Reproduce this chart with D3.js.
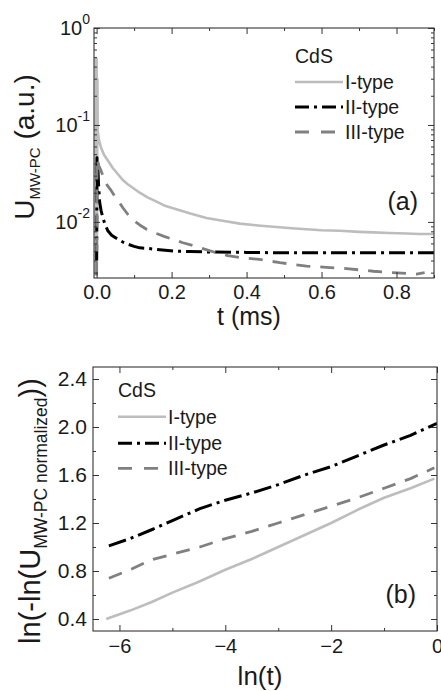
<!DOCTYPE html>
<html><head><meta charset="utf-8">
<script src="https://cdn.jsdelivr.net/npm/d3@7"></script>
<style>
body{margin:0;background:#fff;}
text{font-family:"Liberation Sans",Arial,sans-serif;fill:#1a1a1a;}
</style></head>
<body><svg id="c" width="441" height="691"></svg>
<script>
// ---------- data ----------
const seriesNames = ["I-type","II-type","III-type"];
const legendTitle = "CdS";
// panel (a): t (ms) vs U_MW-PC (a.u.)
const aIType = [[-0.003,0.0028],[-0.002,0.49],[-0.001,0.003],[0.0,0.48],[0.001,0.004],[0.002,0.3],[0.003,0.087],[0.006,0.07],[0.012,0.058],[0.02,0.049],[0.03,0.043],[0.043,0.036],[0.057,0.031],[0.07,0.027],[0.083,0.0245],[0.1,0.022],[0.115,0.02],[0.137,0.0178],[0.16,0.0162],[0.18,0.0148],[0.204,0.0138],[0.25,0.0122],[0.293,0.011],[0.34,0.0102],[0.382,0.0096],[0.43,0.0092],[0.471,0.0089],[0.52,0.0086],[0.56,0.0084],[0.6,0.0082],[0.649,0.0081],[0.7,0.0079],[0.738,0.0078],[0.78,0.0077],[0.827,0.0076],[0.86,0.0075],[0.9,0.0075]];
const aIIType = [[0.0,0.004],[0.001,0.046],[0.002,0.02],[0.003,0.04],[0.005,0.025],[0.008,0.016],[0.012,0.013],[0.017,0.011],[0.022,0.0095],[0.03,0.0081],[0.04,0.0073],[0.057,0.0066],[0.07,0.0062],[0.083,0.0059],[0.1,0.0056],[0.115,0.0054],[0.132,0.00535],[0.16,0.0052],[0.204,0.005],[0.25,0.00495],[0.293,0.0049],[0.4,0.00485],[0.5,0.0048],[0.6,0.0048],[0.7,0.0048],[0.8,0.0048],[0.9,0.0048]];
const aIIIType = [[0.0,0.0028],[0.001,0.045],[0.003,0.042],[0.006,0.038],[0.012,0.0336],[0.02,0.028],[0.028,0.024],[0.039,0.021],[0.05,0.018],[0.06,0.016],[0.07,0.014],[0.083,0.012],[0.101,0.0102],[0.115,0.0093],[0.133,0.0084],[0.16,0.0076],[0.18,0.0071],[0.204,0.0066],[0.23,0.0061],[0.258,0.0057],[0.29,0.0052],[0.32,0.0048],[0.35,0.0045],[0.382,0.0043],[0.435,0.0041],[0.489,0.0038],[0.56,0.0035],[0.613,0.0034],[0.667,0.0033],[0.738,0.0031],[0.79,0.003],[0.853,0.0029],[0.875,0.003]];
// panel (b): ln(t) vs ln(-ln(U normalized))
const bIType = [[-6.25,0.40],[-5.8,0.47],[-5.4,0.54],[-5.0,0.62],[-4.5,0.71],[-4.0,0.81],[-3.5,0.90],[-3.0,1.00],[-2.5,1.10],[-2.0,1.20],[-1.5,1.31],[-1.0,1.41],[-0.5,1.49],[-0.05,1.57]];
const bIIType = [[-6.2,1.01],[-5.8,1.07],[-5.36,1.15],[-5.0,1.22],[-4.48,1.32],[-4.0,1.39],[-3.5,1.45],[-3.0,1.52],[-2.5,1.60],[-2.0,1.67],[-1.5,1.76],[-1.0,1.85],[-0.5,1.93],[0.0,2.03]];
const bIIIType = [[-6.2,0.74],[-5.8,0.81],[-5.42,0.89],[-5.0,0.94],[-4.48,1.0],[-4.0,1.07],[-3.5,1.13],[-3.0,1.20],[-2.5,1.27],[-2.0,1.34],[-1.5,1.41],[-1.0,1.49],[-0.5,1.57],[-0.05,1.66]];
// ticks
const aXTicks = [0,0.2,0.4,0.6,0.8];
const aXMinor = [0.1,0.3,0.5,0.7,0.9];
const aYTicks = [1e-2,1e-1,1e0];
const aYTickExp = ["-2","-1","0"];
const bXTicks = [-6,-4,-2,0];
const bXMinor = [-5,-3,-1];
const bYTicks = [0.4,0.8,1.2,1.6,2.0,2.4];
const bYMinor = [0.6,1.0,1.4,1.8,2.2];

// ---------- styles ----------
const styles = [
  {color:"#bdbdbd", dash:null, w:2.6},
  {color:"#000000", dash:"16,5,3,5", w:3},
  {color:"#808080", dash:"14,10", w:2.8}
];

const svg = d3.select("#c");

function frame(g, x0,x1,y0,y1){
  g.append("rect").attr("x",x0).attr("y",y0).attr("width",x1-x0).attr("height",y1-y0)
   .attr("fill","none").attr("stroke","#333").attr("stroke-width",1.1);
}
function styleAxis(sel){
  sel.select(".domain").remove();
  sel.selectAll("line").attr("stroke","#333").attr("stroke-width",1);
  sel.selectAll("text").attr("fill","#1a1a1a").style("font-family","'Liberation Sans',Arial,sans-serif");
}

// ================= Panel (a) =================
const A = {l:94, r:434, t:28, b:278};
const xA = d3.scaleLinear().domain([-0.007,0.9]).range([A.l,A.r]);
const yA = d3.scaleLog().domain([0.00264,1.0]).range([A.b,A.t]);
const gA = svg.append("g");

svg.append("clipPath").attr("id","clipA").append("rect").attr("x",A.l).attr("y",A.t).attr("width",A.r-A.l).attr("height",A.b-A.t);
svg.append("clipPath").attr("id","clipB").append("rect").attr("x",93).attr("y",367).attr("width",344).attr("height",264);

const lineA = d3.line().x(d=>xA(d[0])).y(d=>yA(d[1]));
const aData = [aIType,aIIType,aIIIType];
const gLinesA = gA.append("g").attr("clip-path","url(#clipA)");
aData.forEach((d,i)=>{
  gLinesA.append("path").datum(d).attr("d",lineA).attr("fill","none")
    .attr("stroke",styles[i].color).attr("stroke-width",styles[i].w)
    .attr("stroke-dasharray",styles[i].dash).attr("stroke-linejoin","round");
});

// axes a
const axAB = gA.append("g").attr("transform",`translate(0,${A.b})`)
  .call(d3.axisBottom(xA).tickValues(aXTicks).tickSize(-6).tickPadding(7).tickFormat(d3.format(".1f")));
styleAxis(axAB); axAB.selectAll("text").attr("font-size",20);
const axABm = gA.append("g").attr("transform",`translate(0,${A.b})`)
  .call(d3.axisBottom(xA).tickValues(aXMinor).tickSize(-3).tickFormat(""));
styleAxis(axABm);
const axAT = gA.append("g").attr("transform",`translate(0,${A.t})`)
  .call(d3.axisTop(xA).tickValues(aXTicks).tickSize(-6).tickFormat(""));
styleAxis(axAT);
const axATm = gA.append("g").attr("transform",`translate(0,${A.t})`)
  .call(d3.axisTop(xA).tickValues(aXMinor).tickSize(-3).tickFormat(""));
styleAxis(axATm);

const aYMinor = [];
[1e-3,1e-2,1e-1].forEach(dec=>{for(let k=2;k<=9;k++){const v=k*dec; if(v>=0.00264 && v<=1) aYMinor.push(v);}});
const axAL = gA.append("g").attr("transform",`translate(${A.l},0)`)
  .call(d3.axisLeft(yA).tickValues(aYTicks).tickSize(-6).tickPadding(5).tickFormat(""));
styleAxis(axAL);
axAL.selectAll(".tick text").each(function(d,i){
  const t = d3.select(this).attr("font-size",20).attr("dy","0.32em").attr("text-anchor","end").attr("x",-4);
  t.append("tspan").text("10");
  t.append("tspan").attr("font-size",14).attr("dy","-0.75em").text(aYTickExp[i]);
});
const axALm = gA.append("g").attr("transform",`translate(${A.l},0)`)
  .call(d3.axisLeft(yA).tickValues(aYMinor).tickSize(-3).tickFormat(""));
styleAxis(axALm);
const axAR = gA.append("g").attr("transform",`translate(${A.r},0)`)
  .call(d3.axisRight(yA).tickValues(aYTicks).tickSize(-6).tickFormat(""));
styleAxis(axAR);
const axARm = gA.append("g").attr("transform",`translate(${A.r},0)`)
  .call(d3.axisRight(yA).tickValues(aYMinor).tickSize(-3).tickFormat(""));
styleAxis(axARm);
frame(gA,A.l,A.r,A.t,A.b);

// titles a
gA.append("text").attr("x",249).attr("y",325).attr("text-anchor","middle").attr("font-size",25).text("t (ms)");
const ytA = gA.append("text").attr("transform","translate(34,147) rotate(-90)").attr("text-anchor","middle").attr("font-size",28);
ytA.append("tspan").text("U");
ytA.append("tspan").attr("font-size",15).attr("dy",6).text("MW-PC");
ytA.append("tspan").attr("dy",-6).text(" (a.u.)");
gA.append("text").attr("x",418).attr("y",210).attr("text-anchor","end").attr("font-size",25).text("(a)");

// legend
function legend(g, x, yTitle, ys, fs){
  g.append("text").attr("x",x).attr("y",yTitle).attr("font-size",fs).text(legendTitle);
  seriesNames.forEach((n,i)=>{
    g.append("line").attr("x1",x).attr("x2",x+48).attr("y1",ys[i]).attr("y2",ys[i])
      .attr("stroke",styles[i].color).attr("stroke-width",styles[i].w)
      .attr("stroke-dasharray", i===1 ? "14,5,3,5" : (i===2 ? "14,12" : null));
    g.append("text").attr("x",x+50).attr("y",ys[i]).attr("dy","0.35em").attr("font-size",fs).text(n);
  });
}
legend(gA, 295, 63, [82,107,132], 19.5);

// ================= Panel (b) =================
const B = {l:93, r:437, t:367, b:631};
const xB = d3.scaleLinear().domain([-6.5,0]).range([B.l,B.r]);
const yB = d3.scaleLinear().domain([0.3,2.5]).range([B.b,B.t]);
const gB = svg.append("g");
const lineB = d3.line().x(d=>xB(d[0])).y(d=>yB(d[1]));
const bData = [bIType,bIIType,bIIIType];
const gLinesB = gB.append("g").attr("clip-path","url(#clipB)");
bData.forEach((d,i)=>{
  gLinesB.append("path").datum(d).attr("d",lineB).attr("fill","none")
    .attr("stroke",styles[i].color).attr("stroke-width",styles[i].w)
    .attr("stroke-dasharray", i===1 ? "18,5,3,5" : styles[i].dash).attr("stroke-linejoin","round");
});

const axBB = gB.append("g").attr("transform",`translate(0,${B.b})`)
  .call(d3.axisBottom(xB).tickValues(bXTicks).tickSize(-6).tickPadding(8).tickFormat(d3.format("d")));
styleAxis(axBB); axBB.selectAll("text").attr("font-size",20);
const axBBm = gB.append("g").attr("transform",`translate(0,${B.b})`)
  .call(d3.axisBottom(xB).tickValues(bXMinor).tickSize(-3).tickFormat(""));
styleAxis(axBBm);
const axBT = gB.append("g").attr("transform",`translate(0,${B.t})`)
  .call(d3.axisTop(xB).tickValues(bXTicks).tickSize(-6).tickFormat(""));
styleAxis(axBT);
const axBTm = gB.append("g").attr("transform",`translate(0,${B.t})`)
  .call(d3.axisTop(xB).tickValues(bXMinor).tickSize(-3).tickFormat(""));
styleAxis(axBTm);
const axBL = gB.append("g").attr("transform",`translate(${B.l},0)`)
  .call(d3.axisLeft(yB).tickValues(bYTicks).tickSize(-6).tickPadding(6).tickFormat(d3.format(".1f")));
styleAxis(axBL); axBL.selectAll("text").attr("font-size",21);
const axBLm = gB.append("g").attr("transform",`translate(${B.l},0)`)
  .call(d3.axisLeft(yB).tickValues(bYMinor).tickSize(-3).tickFormat(""));
styleAxis(axBLm);
const axBR = gB.append("g").attr("transform",`translate(${B.r},0)`)
  .call(d3.axisRight(yB).tickValues(bYTicks).tickSize(-6).tickFormat(""));
styleAxis(axBR);
const axBRm = gB.append("g").attr("transform",`translate(${B.r},0)`)
  .call(d3.axisRight(yB).tickValues(bYMinor).tickSize(-3).tickFormat(""));
styleAxis(axBRm);
frame(gB,B.l,B.r,B.t,B.b);

gB.append("text").attr("x",260).attr("y",685).attr("text-anchor","middle").attr("font-size",26).text("ln(t)");
const ytB = gB.append("text").attr("transform","translate(40,511) rotate(-90)").attr("text-anchor","middle").attr("font-size",29);
ytB.append("tspan").text("ln(-ln(U");
ytB.append("tspan").attr("font-size",17.5).attr("dy",7).text("MW-PC normalized");
ytB.append("tspan").attr("dy",-7).text("))");
gB.append("text").attr("x",416).attr("y",603).attr("text-anchor","end").attr("font-size",25).text("(b)");
legend(gB, 118, 397, [416.7,443.3,468.3], 19.5);
</script></body></html>
